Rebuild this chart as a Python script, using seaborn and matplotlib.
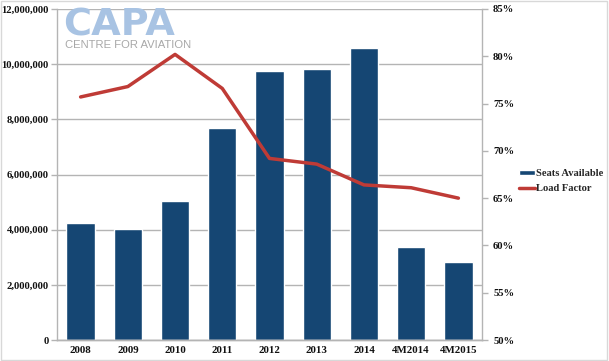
import matplotlib
matplotlib.use('Agg')
import matplotlib.pyplot as plt
import matplotlib.ticker as mticker
import seaborn as sns
import pandas as pd

years = ['2008', '2009', '2010', '2011', '2012', '2013', '2014', '4M2014', '4M2015']
seats = [4230000, 4020000, 5030000, 7680000, 9770000, 9820000, 10600000, 3370000, 2830000]
load_factor = [75.7, 76.8, 80.2, 76.6, 69.2, 68.6, 66.4, 66.1, 65.0]

db = pd.DataFrame({'Year': years, 'Seats Available': seats, 'Load Factor': load_factor})

sns.set_style('white')
plt.rcParams['font.family'] = ['Liberation Serif', 'DejaVu Serif']

bar_col = '#154673'
line_col = '#bf3b36'
grid_col = '#b4b4b4'

fig = plt.figure(figsize=(6.09, 3.61), dpi=100)
ax = fig.add_axes([57 / 609, 1 - 340 / 361, (482 - 57) / 609, (340 - 9) / 361])

# logo sits behind the chart
fig.text(63 / 609, 1 - 35 / 361, 'CAPA', fontsize=27.5, fontweight='heavy', color='#a8c3e3',
         family=['DejaVu Sans'], ha='left', va='baseline', zorder=0)
fig.text(65 / 609, 1 - 47.5 / 361, 'CENTRE FOR AVIATION', fontsize=8.1, color='#a8a8a8',
         family=['Liberation Sans', 'DejaVu Sans'], ha='left', va='baseline', zorder=0)
ax.patch.set_alpha(0)

sns.barplot(x='Year', y='Seats Available', data=db, color=bar_col, width=0.6,
            saturation=1, ax=ax, label='Seats Available')
if ax.get_legend() is not None:
    ax.get_legend().remove()
ax.set_ylim(0, 12000000)
ax.set_xlim(-0.5, len(years) - 0.5)
ax.yaxis.set_major_locator(mticker.MultipleLocator(2000000))
ax.yaxis.set_major_formatter(mticker.FuncFormatter(lambda v, p: '{:,.0f}'.format(v)))
ax.yaxis.grid(True, color=grid_col, linewidth=1)
ax.set_axisbelow(True)
ax.set_xlabel('')
ax.set_ylabel('')

ax2 = ax.twinx()
sns.lineplot(x=list(range(len(years))), y=load_factor, color=line_col, linewidth=2.5,
             ax=ax2, label='Load Factor', legend=False)
ax2.set_ylim(50, 85)
ax2.yaxis.set_major_locator(mticker.MultipleLocator(5))
ax2.yaxis.set_major_formatter(mticker.FuncFormatter(lambda v, p: '{:.0f}%'.format(v)))
ax2.set_xlim(-0.5, len(years) - 0.5)

for a in (ax, ax2):
    a.spines['top'].set_visible(False)
    for s in ('left', 'right', 'bottom'):
        a.spines[s].set_color(grid_col)
        a.spines[s].set_linewidth(1)
    a.tick_params(labelsize=7.6, colors='#111111', length=4, width=1)
    for t in a.get_yticklabels():
        t.set_fontweight('bold')
ax.tick_params(axis='y', color=grid_col, direction='out', pad=2)
ax2.tick_params(axis='y', color=grid_col, direction='out', pad=4)
ax.spines['right'].set_visible(False)
ax2.spines['left'].set_visible(False)

# x ticks between categories
ax.set_xticks(range(len(years)))
ax.set_xticklabels(years, fontweight='bold', fontsize=7.8)
ax.tick_params(axis='x', length=0, pad=4)
ax.set_xticks([i - 0.5 for i in range(len(years) + 1)], minor=True)
ax.tick_params(axis='x', which='minor', length=4, color=grid_col, width=1)

h1, l1 = ax.get_legend_handles_labels()
h2, l2 = ax2.get_legend_handles_labels()
fig.legend(h1[:1] + h2, ['Seats Available', 'Load Factor'], loc='center left',
           bbox_to_anchor=(514 / 609, 1 - 181 / 361),
           frameon=False, handlelength=1.5, handleheight=0.45,
           handletextpad=0.1, labelspacing=0.55, borderpad=0,
           prop={'weight': 'bold', 'size': 7.6})

fig.add_artist(plt.Rectangle((0.002, 0.004), 0.994, 0.992, transform=fig.transFigure,
                             fill=False, edgecolor='#d8d8d8', linewidth=1))

fig.savefig('out.png', dpi=100)
